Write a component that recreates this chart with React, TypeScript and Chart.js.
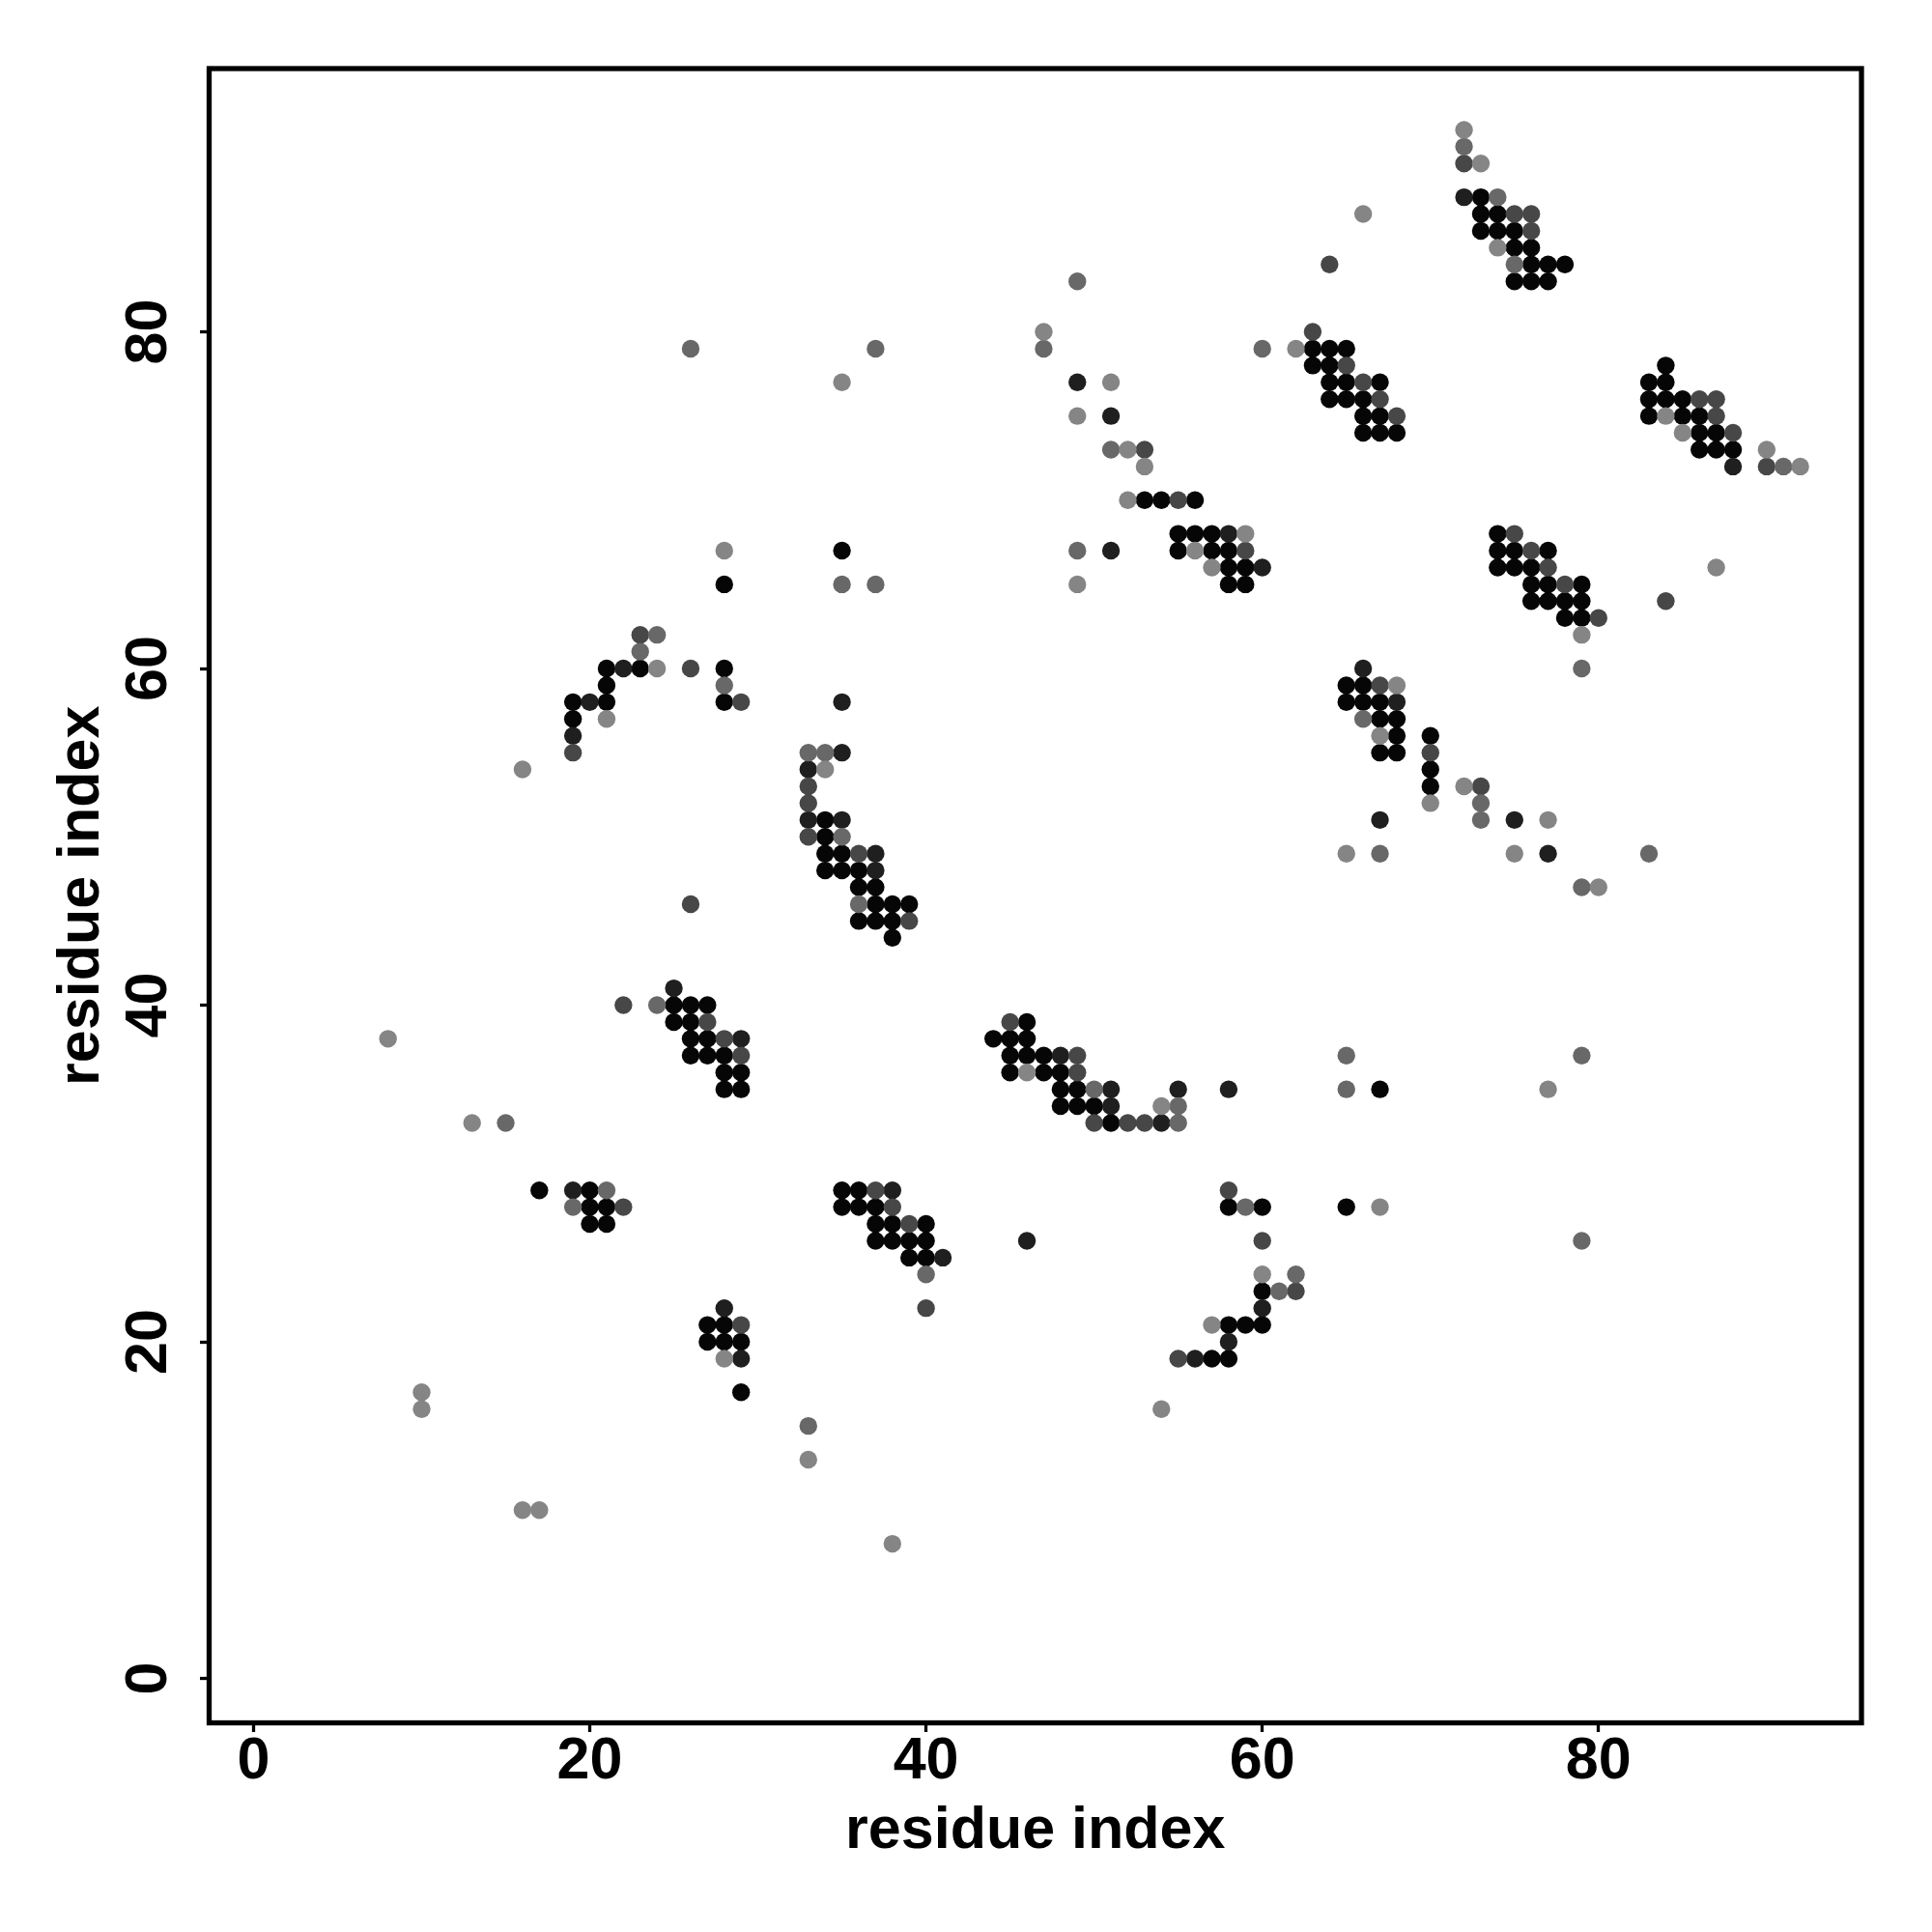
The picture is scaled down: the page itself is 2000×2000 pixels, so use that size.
import React, { useEffect, useRef } from "react";
import { Chart, registerables } from "chart.js";

Chart.register(...registerables);

// Contact map points grouped by grey level: [residue x, residue y]
const blackPoints: [number, number][] = [
  [73,88],[73,87],[74,87],[73,86],[74,86],[75,86],[75,85],[76,85],[76,84],[77,84],[78,84],[75,83],[76,83],[77,83],
  [53,70],[54,70],[56,70],[55,68],[56,68],[57,68],[35,67],[55,67],[57,67],[58,67],[58,66],[59,66],[58,65],[59,65],[28,65],
  [63,79],[64,79],[65,79],[63,78],[64,78],[64,77],[65,77],[67,77],[64,76],[65,76],[66,76],[66,75],[67,75],[66,74],[67,74],[68,74],
  [84,78],[83,77],[84,77],[83,76],[84,76],[85,76],[83,75],[85,75],[86,75],[86,74],[87,74],[86,73],[87,73],[88,73],
  [74,68],[74,67],[75,67],[77,67],[74,66],[75,66],[76,66],[76,65],[77,65],[79,65],[76,64],[77,64],[78,64],[79,64],[78,63],[79,63],
  [21,60],[23,60],[28,60],[21,59],[19,58],[21,58],[28,58],[19,57],
  [34,51],[34,50],[34,49],[35,49],[34,48],[35,48],[36,48],[36,47],[37,47],[37,46],[38,46],[39,46],[36,45],[37,45],[38,45],[38,44],
  [65,59],[66,59],[65,58],[66,58],[67,58],[67,57],[68,57],[68,56],[67,55],[68,55],
  [70,56],[70,54],[70,53],
  [25,40],[26,40],[27,40],[25,39],[26,39],[26,38],[27,38],[26,37],[27,37],[28,37],[28,36],[29,36],[28,35],[29,35],
  [46,39],[44,38],[45,38],[46,38],[45,37],[46,37],[47,37],[45,36],[47,36],[48,36],[48,35],[49,35],[48,34],[49,34],[50,34],[51,33],[67,35],
  [17,29],[20,29],[20,28],[21,28],[20,27],[21,27],
  [35,29],[36,29],[35,28],[36,28],[37,28],[37,27],[38,27],[40,27],[37,26],[38,26],[39,26],[40,26],[39,25],[40,25],
  [58,28],[60,28],[65,28],[60,23],[58,21],[59,21],[60,21],[57,19],[58,19],
  [27,21],[28,21],[27,20],[28,20],[29,20],[29,17],
];

const nearBlackPoints: [number, number][] = [
  [72,88],[49,77],[51,75],[58,68],[51,67],[60,66],[88,72],[22,60],[20,58],[35,58],[19,56],[35,55],[33,54],[33,51],[35,51],
  [37,49],[37,48],[66,60],[68,58],[67,51],[75,51],[77,49],[25,41],[29,38],[48,37],[51,35],[55,35],[58,35],[51,34],[54,33],
  [19,29],[38,29],[46,26],[41,25],[60,22],[58,20],[56,19],[28,22],[29,19],
];

const darkGreyPoints: [number, number][] = [
  [72,90],[75,87],[76,87],[76,86],[64,84],[53,73],[55,70],[59,67],[63,80],[65,78],[66,77],[67,76],[68,75],[86,76],[87,76],
  [87,75],[88,74],[90,72],[75,68],[76,67],[77,66],[78,65],[84,64],[80,63],[23,62],[26,60],[29,58],[19,55],[33,53],[33,52],
  [33,50],[36,49],[26,46],[39,45],[67,59],[70,55],[73,53],[22,40],[27,39],[28,38],[29,37],[45,39],[49,37],[49,36],[50,33],
  [52,33],[53,33],[22,28],[37,29],[38,28],[39,27],[40,22],[58,29],[60,26],[62,23],[55,19],[29,21],
];

const midGreyPoints: [number, number][] = [
  [72,91],[74,88],[75,84],[49,83],[47,79],[26,79],[37,79],[51,73],[49,67],[35,65],[37,65],[60,79],[91,72],[79,60],[24,62],
  [23,61],[28,59],[33,55],[34,55],[35,50],[36,46],[66,57],[73,52],[73,51],[67,49],[83,49],[79,47],[24,40],[15,33],[50,35],
  [65,35],[55,34],[55,33],[65,37],[79,37],[21,29],[19,28],[40,24],[59,28],[79,26],[62,24],[61,23],[33,15],
];

const lightGreyPoints: [number, number][] = [
  [72,92],[73,90],[74,85],[66,87],[47,80],[35,77],[51,77],[49,75],[52,73],[53,72],[52,70],[59,68],[56,67],[57,66],[49,65],
  [28,67],[62,79],[84,75],[85,74],[90,73],[92,72],[79,62],[87,66],[24,60],[21,57],[16,54],[34,54],[46,36],[68,59],[67,56],
  [70,52],[72,53],[77,51],[65,49],[75,49],[80,47],[8,38],[13,33],[77,35],[54,34],[67,28],[60,24],[57,21],[54,16],[28,19],
  [10,17],[10,16],[33,13],[16,10],[17,10],[38,8],
];

const xTickValues = [0, 20, 40, 60, 80];
const yTickValues = [0, 20, 40, 60, 80];
const xTitle = "residue index";
const yTitle = "residue index";

const FONT = 'bold 61px "Liberation Sans", Arial, Helvetica, sans-serif';

export default function App() {
  const canvasRef = useRef<HTMLCanvasElement | null>(null);

  useEffect(() => {
    const canvas = canvasRef.current;
    if (!canvas) return;

    const toData = (pts: [number, number][]) => pts.map(([x, y]) => ({ x, y }));
    const mk = (pts: [number, number][], color: string) => ({
      data: toData(pts),
      backgroundColor: color,
      borderWidth: 0,
      pointRadius: 9.2,
      pointHoverRadius: 9.2,
    });

    const decor = {
      id: "decor",
      afterDraw(chart: any) {
        const ctx = chart.ctx;
        const a = chart.chartArea;
        const xs = chart.scales.x;
        const ys = chart.scales.y;
        ctx.save();
        ctx.strokeStyle = "#000";
        ctx.lineWidth = 5.3;
        ctx.strokeRect(a.left, a.top, a.right - a.left, a.bottom - a.top);
        ctx.fillStyle = "#000";
        ctx.font = FONT;
        ctx.textAlign = "center";
        ctx.textBaseline = "alphabetic";
        for (const v of xTickValues) {
          ctx.fillText(String(v), xs.getPixelForValue(v), 1841);
        }
        for (const v of yTickValues) {
          ctx.save();
          ctx.translate(171.5, ys.getPixelForValue(v));
          ctx.rotate(-Math.PI / 2);
          ctx.fillText(String(v), 0, 0);
          ctx.restore();
        }
        ctx.fillText(xTitle, (a.left + a.right) / 2, 1913);
        ctx.save();
        ctx.translate(102, (a.top + a.bottom) / 2);
        ctx.rotate(-Math.PI / 2);
        ctx.fillText(yTitle, 0, 0);
        ctx.restore();
        ctx.restore();
      },
    };

    const axisCommon = {
      type: "linear" as const,
      min: -2.64,
      max: 95.64,
      border: { display: false },
      grid: {
        display: true,
        drawOnChartArea: false,
        drawTicks: true,
        tickLength: 9.5,
        tickWidth: 3.3,
        tickColor: "#000",
        color: "#000",
      },
      ticks: { display: false },
    };

    const chart = new Chart(canvas, {
      type: "scatter",
      data: {
        datasets: [
          mk(lightGreyPoints, "#858585"),
          mk(midGreyPoints, "#686868"),
          mk(darkGreyPoints, "#474747"),
          mk(nearBlackPoints, "#1f1f1f"),
          mk(blackPoints, "#060606"),
        ],
      },
      options: {
        responsive: false,
        animation: false,
        devicePixelRatio: 1,
        layout: { padding: { left: 0, top: 71, right: 73, bottom: 0 } },
        plugins: { legend: { display: false }, tooltip: { enabled: false }, title: { display: false } },
        scales: {
          x: {
            ...axisCommon,
            position: "bottom",
            afterBuildTicks: (s: any) => {
              s.ticks = xTickValues.map((v) => ({ value: v }));
            },
            afterFit: (s: any) => {
              s.height = 216.5;
            },
          },
          y: {
            ...axisCommon,
            position: "left",
            afterBuildTicks: (s: any) => {
              s.ticks = yTickValues.map((v) => ({ value: v }));
            },
            afterFit: (s: any) => {
              s.width = 216.5;
            },
          },
        },
      } as any,
      plugins: [decor],
    });

    return () => chart.destroy();
  }, []);

  return (
    <div style={{ width: 2000, height: 2000, background: "#fff" }}>
      <style>{"body{margin:0;background:#fff}"}</style>
      <canvas ref={canvasRef} width={2000} height={2000} style={{ display: "block" }} />
    </div>
  );
}
